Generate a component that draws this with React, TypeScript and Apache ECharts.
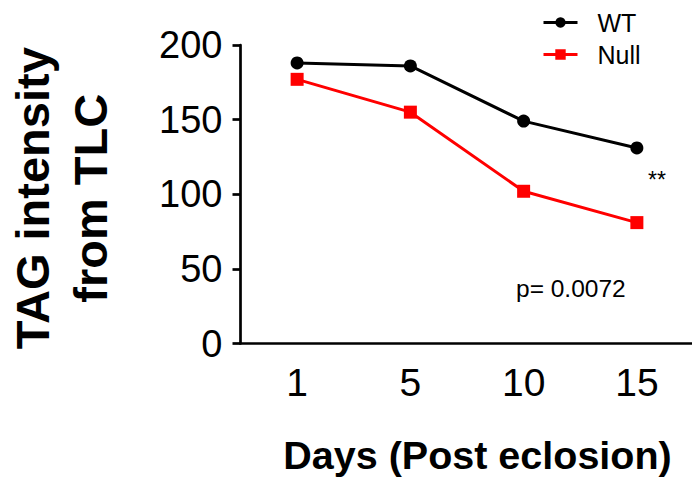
import React, { useEffect, useRef } from "react";
import * as echarts from "echarts";

const categories = ["1", "5", "10", "15"];
const wtValues = [188, 186, 149, 131];
const nullValues = [177, 155, 102, 81];
const yTicks = { min: 0, max: 200, interval: 50 };
const pText = "p= 0.0072";
const sigText = "**";

const FONT = "Liberation Sans, Arial, Helvetica, sans-serif";

export default function App() {
  const ref = useRef<HTMLDivElement>(null);
  useEffect(() => {
    if (!ref.current) return;
    const chart = echarts.init(ref.current, null, { renderer: "svg" });
    chart.setOption({
      animation: false,
      backgroundColor: "#ffffff",
      textStyle: { fontFamily: FONT, color: "#000" },
      grid: {
        left: 240.5,
        top: 45,
        width: 453,
        height: 298.5,
        containLabel: false,
        outerBoundsMode: "none",
      },
      legend: {
        orient: "vertical",
        left: 537,
        top: 5,
        itemWidth: 34,
        itemHeight: 13,
        itemGap: 7,
        lineStyle: { width: 3 },
        textStyle: { fontFamily: FONT, fontSize: 25, color: "#000", padding: [0, 0, 0, 15] },
        data: ["WT", "Null"],
      },
      xAxis: {
        type: "category",
        data: categories,
        boundaryGap: true,
        name: "Days (Post eclosion)",
        nameLocation: "middle",
        nameGap: 91,
        nameTextStyle: {
          fontFamily: FONT,
          fontSize: 39.5,
          fontWeight: "bold",
          color: "#000",
          padding: [0, 0, 0, 21],
        },
        axisLine: { lineStyle: { color: "#000", width: 2.7 } },
        axisTick: { alignWithLabel: true, length: 8, lineStyle: { color: "#000", width: 2.7 } },
        axisLabel: { fontFamily: FONT, fontSize: 39, color: "#000", margin: 19 },
        splitLine: { show: false },
      },
      yAxis: {
        type: "value",
        min: yTicks.min,
        max: yTicks.max,
        interval: yTicks.interval,
        name: "TAG intensity\nfrom TLC",
        nameLocation: "middle",
        nameRotate: 90,
        nameGap: 121,
        nameTextStyle: {
          fontFamily: FONT,
          fontSize: 47,
          fontWeight: "bold",
          color: "#000",
          lineHeight: 58,
          padding: [0, 8, 0, 0],
        },
        axisLine: { show: true, lineStyle: { color: "#000", width: 2.7 } },
        axisTick: { show: true, length: 8, lineStyle: { color: "#000", width: 2.7 } },
        axisLabel: { fontFamily: FONT, fontSize: 38, color: "#000", margin: 18 },
        splitLine: { show: false },
      },
      graphic: [
        {
          type: "text",
          left: 516,
          top: 276,
          style: { text: pText, fontFamily: FONT, fontSize: 24.5, fill: "#000" },
        },
        {
          type: "text",
          left: 648,
          top: 168,
          style: { text: sigText, fontFamily: FONT, fontSize: 23, fill: "#000" },
        },
      ],
      series: [
        {
          name: "WT",
          type: "line",
          data: wtValues,
          symbol: "circle",
          symbolSize: 13,
          itemStyle: { color: "#000" },
          lineStyle: { color: "#000", width: 3 },
        },
        {
          name: "Null",
          type: "line",
          data: nullValues,
          symbol: "rect",
          symbolSize: 13,
          itemStyle: { color: "#ff0000" },
          lineStyle: { color: "#ff0000", width: 3 },
        },
      ],
    });
    return () => chart.dispose();
  }, []);
  return <div ref={ref} style={{ width: 692, height: 478, position: "absolute", left: 0, top: 0 }} />;
}
